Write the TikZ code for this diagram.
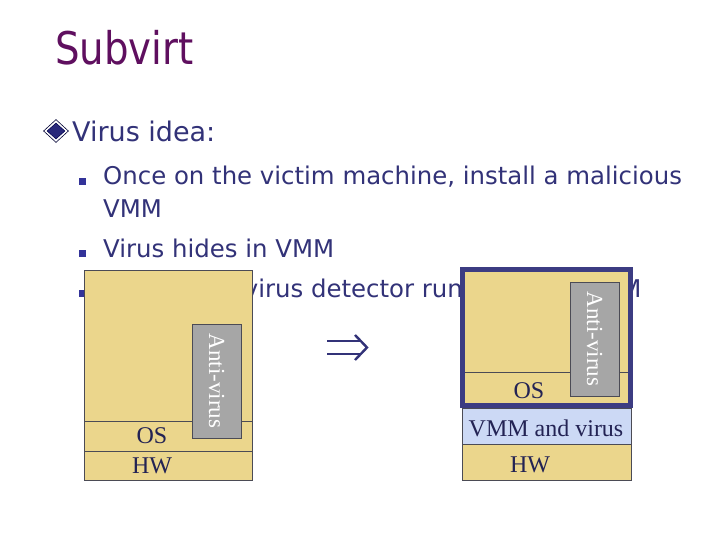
\documentclass[tikz,border=0pt]{standalone}
\usepackage{fontspec}
\setmainfont{Liberation Serif}
\newfontfamily\verd{DejaVu Sans}
\newfontfamily\tah{DejaVu Sans}[FakeStretch=0.86]
\usetikzlibrary{shapes.geometric}
\definecolor{txtc}{RGB}{50,50,120}
\definecolor{titlec}{RGB}{95,15,95}
\definecolor{bulc}{RGB}{51,51,153}
\definecolor{yel}{RGB}{235,214,140}
\definecolor{lblue}{RGB}{204,217,245}
\definecolor{grayb}{RGB}{166,166,166}
\definecolor{thickc}{RGB}{60,60,130}
\definecolor{linec}{RGB}{75,75,85}
\tikzset{
  txt/.style={anchor=base west, inner sep=0, text=txtc, font=\verd\fontsize{24.4}{30}\selectfont},
  sqbul/.style={fill=bulc, draw=none},
  layer/.style={fill=yel, draw=linec, line width=0.8pt},
  avbox/.style={fill=grayb, draw=linec, line width=0.8pt},
  avtext/.style={rotate=-90, text=white, inner sep=0, font=\fontsize{23}{23}\selectfont},
  lbl/.style={inner sep=0, text=txtc!70!black, font=\fontsize{24}{24}\selectfont},
  arrline/.style={draw=txtc, line width=2.4pt}
}
\begin{document}
\begin{tikzpicture}[x=1pt,y=-1pt]
\useasboundingbox[fill=white] (0,0) rectangle (720,540);
% title
\node[anchor=base west, inner sep=0, text=titlec, font=\tah\fontsize{45}{50}\selectfont] (title) at (55,65) {Subvirt};
% diamond bullet
\node[diamond, draw=black!80!blue, line width=0.6pt, minimum width=25pt, minimum height=23pt, inner sep=0] (dia) at (56,131) {};
\node[diamond, fill=bulc!80!black, draw=black!70!blue, line width=0.5pt, minimum width=18pt, minimum height=16pt, inner sep=0] (diai) at (56,131) {};
\node[anchor=base west, inner sep=0, text=txtc, font=\verd\fontsize{27}{30}\selectfont] (idea) at (72,142) {Virus idea:};
% sub bullets
\fill[sqbul] (79,178) rectangle (86,185);
\node[txt] (l1) at (103,185) {Once on the victim machine, install a malicious};
\node[txt] (l1b) at (103,218) {VMM};
\fill[sqbul] (79,250) rectangle (86,257);
\node[txt] (l2) at (103,257) {Virus hides in VMM};
\fill[sqbul] (79,290) rectangle (86,297);
\node[txt] (l3) at (103,297) {Invisible to virus detector running inside VM};
% left stack
\draw[layer] (84,270) rectangle (252,480);
\draw[linec, line width=0.8pt] (84,421) -- (252,421);
\draw[linec, line width=0.8pt] (84,451) -- (252,451);
\draw[avbox] (192,324) rectangle (241,438);
\node[avtext] (av1) at (216.5,381) {Anti-virus};
\node[lbl] (os1) at (152,436) {OS};
\node[lbl] (hw1) at (152,466) {HW};
% arrow (double arrow symbol)
\coordinate (a1) at (327,341);
\coordinate (a2) at (361,341);
\coordinate (b1) at (327,354);
\coordinate (b2) at (361,354);
\coordinate (ct) at (355,335);
\coordinate (tip) at (367,347.5);
\coordinate (cb) at (355,360);
\draw[arrline] (a1) -- (a2);
\draw[arrline] (b1) -- (b2);
\draw[arrline, line join=miter] (ct) -- (tip) -- (cb);
% right stack
\draw[fill=lblue, draw=linec, line width=0.8pt] (462,408) rectangle (631,444);
\draw[layer] (462,444) rectangle (631,480);
\fill[yel] (462.5,269.5) rectangle (630.5,405.5);
\draw[linec, line width=0.8pt] (465,372) -- (628,372);
\draw[avbox] (570,282) rectangle (619,396);
\node[avtext] (av2) at (594.5,339) {Anti-virus};
\draw[thickc, line width=5pt] (462.5,269.5) rectangle (630.5,405.5);
\node[lbl] (os2) at (529,391) {OS};
\node[lbl] (vmm) at (546,428) {VMM and virus};
\node[lbl] (hw2) at (530,465) {HW};
\end{tikzpicture}
\end{document}
